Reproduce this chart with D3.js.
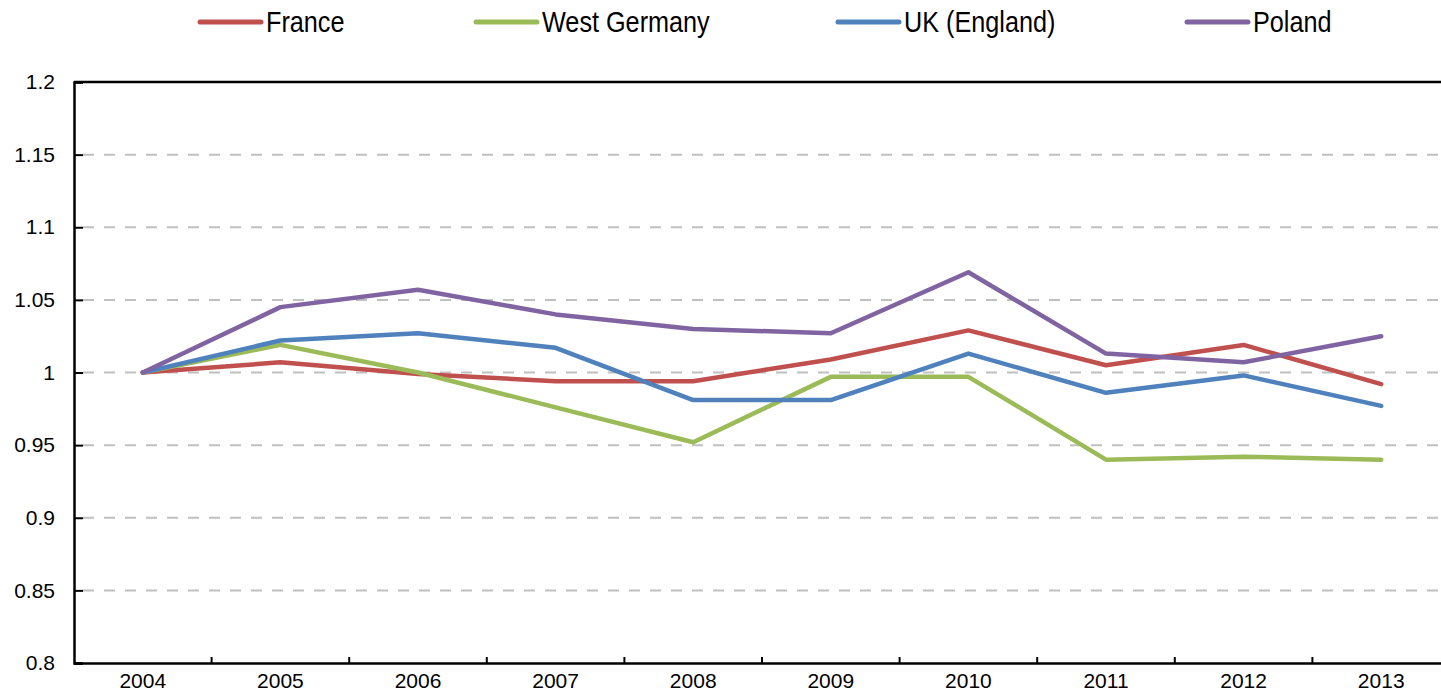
<!DOCTYPE html>
<html>
<head>
<meta charset="utf-8">
<script src="https://cdn.jsdelivr.net/npm/d3@7"></script>
<style>
  body { margin: 0; background: #fff; }
  svg text { font-family: "Liberation Sans", Arial, sans-serif; fill: #000; }
</style>
</head>
<body>
<svg id="chart" width="1441" height="695"></svg>
<script>
// years on the x axis
const years = ["2004", "2005", "2006", "2007", "2008", "2009", "2010", "2011", "2012", "2013"]

// index values (2004 = 1)
const france      = [1.000, 1.007, 0.999, 0.994, 0.994, 1.009, 1.029, 1.005, 1.019, 0.992]
const westGermany = [1.000, 1.019, 1.000, 0.976, 0.952, 0.997, 0.997, 0.940, 0.942, 0.940]
const ukEngland   = [1.000, 1.022, 1.027, 1.017, 0.981, 0.981, 1.013, 0.986, 0.998, 0.977]
const poland      = [1.000, 1.045, 1.057, 1.040, 1.030, 1.027, 1.069, 1.013, 1.007, 1.025]

const yTicks = [0.8, 0.85, 0.9, 0.95, 1, 1.05, 1.1, 1.15, 1.2]

const series = [
  {name: "France", values: france, color: "#C0504D", legendX: 200},
  {name: "West Germany", values: westGermany, color: "#9BBB59", legendX: 476},
  {name: "UK (England)", values: ukEngland, color: "#4F81BD", legendX: 838},
  {name: "Poland", values: poland, color: "#8064A2", legendX: 1187}
]

const svg = d3.select("#chart")
const plotLeft = 74, plotRight = 1450, plotTop = 82, plotBottom = 663

const x = d3.scaleBand().domain(years).range([plotLeft, plotRight])
const y = d3.scaleLinear().domain([0.8, 1.2]).range([plotBottom, plotTop])

// dashed gridlines (not on the frame values)
svg.append("g")
  .selectAll("line")
  .data(yTicks.filter(t => t > 0.8 && t < 1.2))
  .join("line")
  .attr("x1", plotLeft + 9).attr("x2", plotRight)
  .attr("y1", d => y(d)).attr("y2", d => y(d))
  .attr("stroke", "#C0C0C0")
  .attr("stroke-width", 2)
  .attr("stroke-dasharray", "11,10")

// top frame line
svg.append("line")
  .attr("x1", plotLeft).attr("x2", plotRight)
  .attr("y1", plotTop).attr("y2", plotTop)
  .attr("stroke", "#000").attr("stroke-width", 2.5)

// y axis, ticks pointing inward
const yAxis = svg.append("g")
  .attr("transform", `translate(${plotLeft},0)`)
  .call(d3.axisLeft(y).tickValues(yTicks).tickSize(-9).tickPadding(19)
    .tickFormat(d => String(+d.toFixed(2))))
yAxis.select(".domain").attr("stroke", "#000").attr("stroke-width", 2.5)
yAxis.selectAll(".tick line").attr("stroke", "#000").attr("stroke-width", 2)
yAxis.selectAll(".tick text").attr("font-size", 21).attr("font-family", null)

// x axis: labels centred on bands, ticks between bands
const xAxis = svg.append("g")
  .attr("transform", `translate(0,${plotBottom})`)
  .call(d3.axisBottom(x).tickSize(0).tickPadding(10))
xAxis.select(".domain").attr("stroke", "#000").attr("stroke-width", 2.5)
xAxis.selectAll(".tick text").attr("font-size", 21).attr("font-family", null)

svg.append("g")
  .selectAll("line")
  .data(years.slice(1))
  .join("line")
  .attr("x1", d => x(d)).attr("x2", d => x(d))
  .attr("y1", plotBottom).attr("y2", plotBottom - 6)
  .attr("stroke", "#000").attr("stroke-width", 2)

// lines
const line = d3.line()
  .x((d, i) => x(years[i]) + x.bandwidth() / 2)
  .y(d => y(d))

svg.append("g")
  .selectAll("path")
  .data(series)
  .join("path")
  .attr("d", d => line(d.values))
  .attr("fill", "none")
  .attr("stroke", d => d.color)
  .attr("stroke-width", 4.5)
  .attr("stroke-linejoin", "round")
  .attr("stroke-linecap", "round")

// legend
const legend = svg.append("g")
  .selectAll("g")
  .data(series)
  .join("g")
  .attr("transform", d => `translate(${d.legendX},22)`)

legend.append("line")
  .attr("x1", 0).attr("x2", 61)
  .attr("stroke", d => d.color)
  .attr("stroke-width", 5)
  .attr("stroke-linecap", "round")

// legend text is a narrow face in the original, so squeeze it a bit
legend.append("text")
  .attr("transform", "translate(66,0) scale(0.87,1)")
  .attr("dy", "0.36em")
  .attr("font-size", 29)
  .text(d => d.name)
</script>
</body>
</html>
